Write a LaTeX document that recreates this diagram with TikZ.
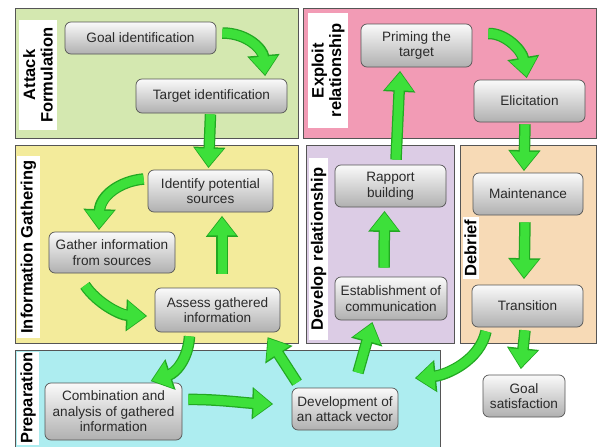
\documentclass[tikz,border=0pt]{standalone}
\usepackage{fontspec}
\setmainfont{Liberation Sans}
\usetikzlibrary{arrows.meta,calc}
\definecolor{pgreen}{HTML}{D4E8B0}
\definecolor{ppink}{HTML}{F29BB5}
\definecolor{pyellow}{HTML}{F3EB9B}
\definecolor{ppurple}{HTML}{DCCCE5}
\definecolor{ppeach}{HTML}{F7DAB6}
\definecolor{pcyan}{HTML}{ADEDF0}
\definecolor{agreen}{HTML}{3DE03A}
\definecolor{adark}{HTML}{22A822}
\definecolor{bordergray}{HTML}{555555}
\definecolor{textgray}{HTML}{2A2A2A}
\begin{document}
\begin{tikzpicture}[x=1pt,y=-1pt,
  panel/.style={draw=bordergray,line width=0.8pt},
  lbl/.style={fill=white,rotate=90,inner sep=0pt,font=\fontsize{16.5}{17.5}\selectfont\bfseries,align=center},
  box/.style={draw=bordergray,line width=0.7pt,rounded corners=6pt,top color=gray!4,bottom color=gray!62,
    align=center,inner sep=1pt,text=textgray,font=\fontsize{13.6}{15.5}\selectfont},
  garrow/.style={draw=agreen,line width=9pt,-{Triangle[width=27pt,length=18pt]},
    preaction={draw=adark,line width=11.5pt,-{Triangle[width=31pt,length=21pt]},shorten >=-1.5pt}}]
\useasboundingbox (0,0) rectangle (598,447);
\fill[white] (0,0) rectangle (598,447);
% panels
\draw[panel,fill=pgreen] (15,8) rectangle (298,138);
\draw[panel,fill=ppink] (303,8) rectangle (596,138);
\draw[panel,fill=pyellow] (15,145) rectangle (298,343);
\draw[panel,fill=ppurple] (306,145) rectangle (454,343);
\draw[panel,fill=ppeach] (460,145) rectangle (596,343);
\draw[panel,fill=pcyan] (15,350) rectangle (440,449);
% panel labels
\node[lbl,minimum width=110pt,minimum height=38pt] (lattack) at (38,75) {Attack\\Formulation};
\node[lbl,minimum width=115pt,minimum height=40pt] (lexploit) at (328,70.5) {Exploit\\relationship};
\node[lbl,minimum width=182pt,minimum height=23pt] (linfo) at (28.5,247) {Information Gathering};
\node[lbl,minimum width=182pt,minimum height=19pt] (ldevelop) at (318.5,249) {Develop relationship};
\node[lbl,minimum width=62pt,minimum height=16pt] (ldebrief) at (470.5,248) {Debrief};
\node[lbl,minimum width=93pt,minimum height=22pt] (lprep) at (28,398) {Preparation};
% nodes
\node[box,minimum width=151pt,minimum height=32pt] (goal) at (140.5,38) {Goal identification};
\node[box,minimum width=151pt,minimum height=34pt] (target) at (211.5,96) {Target identification};
\node[box,minimum width=111pt,minimum height=43pt] (priming) at (416.5,45.5) {Priming the\\target};
\node[box,minimum width=111pt,minimum height=42pt] (elicit) at (529.5,101) {Elicitation};
\node[box,minimum width=125pt,minimum height=42pt] (ident) at (210.5,191) {Identify potential\\sources};
\node[box,minimum width=126pt,minimum height=41pt] (gather) at (112,252.5) {Gather information\\from sources};
\node[box,minimum width=125pt,minimum height=44pt] (assess) at (217.5,310) {Assess gathered\\information};
\node[box,minimum width=111pt,minimum height=42pt] (rapport) at (390.5,186) {Rapport\\building};
\node[box,minimum width=112pt,minimum height=43pt] (estab) at (391,298.5) {Establishment of\\communication};
\node[box,minimum width=110pt,minimum height=42pt] (maint) at (528,194) {Maintenance};
\node[box,minimum width=111pt,minimum height=42pt] (trans) at (527.5,306) {Transition};
\node[box,minimum width=137pt,minimum height=57pt] (comb) at (113.5,411.5) {Combination and\\analysis of gathered\\information};
\node[box,minimum width=106pt,minimum height=42pt] (dev) at (345,409) {Development of\\an attack vector};
\node[box,minimum width=82pt,minimum height=42pt] (goalsat) at (524,396) {Goal\\satisfaction};
% arrows
\draw[garrow] ($(goal.east)+(6,-5)$) .. controls (248,33) and (263,50) .. ($(target.north)+(53.5,-4)$);
\draw[garrow] ($(target.south)+(-1,1)$) -- ($(ident.north)+(-2,-3)$);
\draw[garrow] ($(ident.west)+(-4,-12)$) .. controls (120,181) and (100,196) .. ($(gather.north)+(-13,-3)$);
\draw[garrow] ($(gather.south)+(-27,12)$) .. controls (97,303) and (120,315) .. ($(assess.west)+(-9,6)$);
\draw[garrow] ($(assess.north)+(4.5,-14)$) -- ($(ident.south)+(11.5,5)$);
\draw[garrow] ($(assess.south)+(-28,4)$) .. controls (188,360) and (175,373) .. ($(comb.north)+(38.5,-2)$);
\draw[garrow] ($(comb.east)+(6,-12)$) .. controls (215,399) and (245,403) .. ($(dev.west)+(-20,-5)$);
\draw[garrow] ($(dev.north)+(-48,-5)$) -- ($(assess.south east)+(-12,6)$);
\draw[garrow] ($(dev.north)+(13,-15)$) -- ($(estab.south)+(-19,3)$);
\draw[garrow] ($(estab.north)+(-7,-9)$) -- ($(rapport.south)+(-6,5)$);
\draw[garrow] ($(rapport.north)+(5.5,-5)$) -- ($(priming.south)+(-16.5,5)$);
\draw[garrow] ($(priming.east)+(16,-12)$) .. controls (505,33) and (522,50) .. ($(elicit.north)+(-3,-3)$);
\draw[garrow] ($(elicit.south)+(-4.5,2)$) -- ($(maint.north)+(-4,-3)$);
\draw[garrow] ($(maint.south)+(-3,7)$) -- ($(trans.north)+(-3.5,-7)$);
\draw[garrow] ($(trans.south)+(-2.5,3)$) -- ($(goalsat.north)+(-3,-7)$);
\draw[garrow] ($(trans.south)+(-41.5,4)$) .. controls (480,360) and (447,375) .. ($(dev.east)+(18,-31)$);
\end{tikzpicture}
\end{document}
